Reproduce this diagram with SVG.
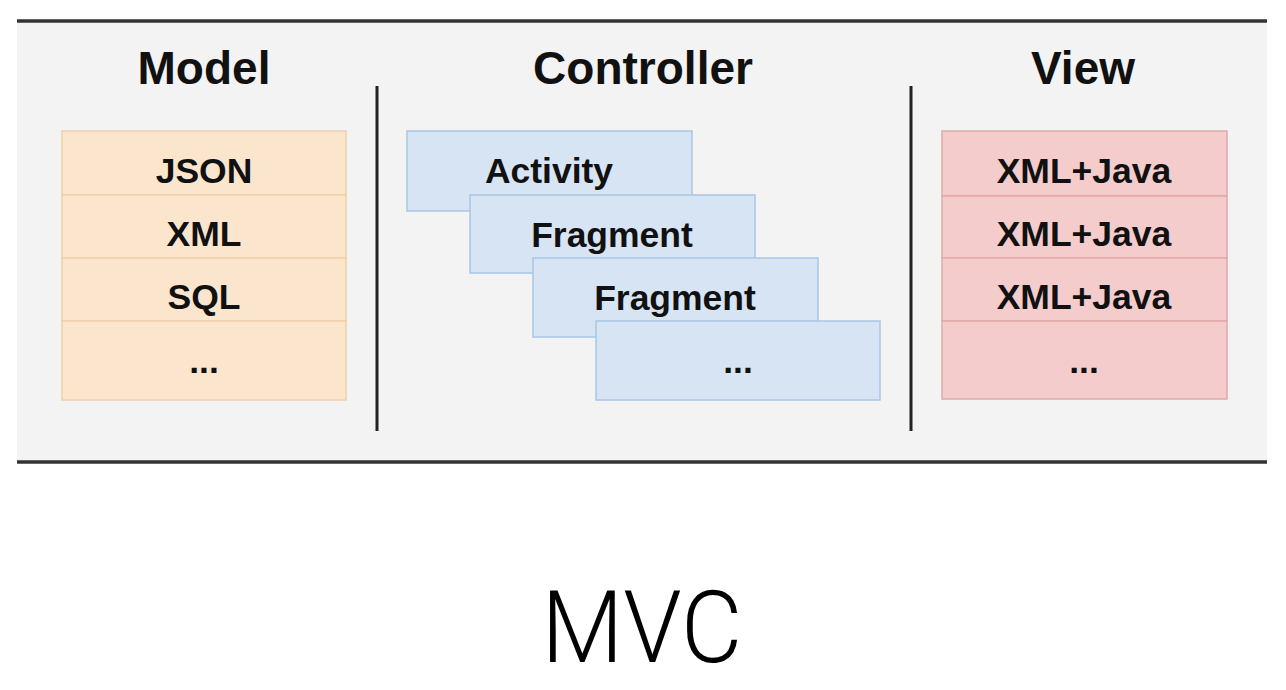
<svg xmlns="http://www.w3.org/2000/svg" width="1286" height="690" viewBox="0 0 1286 690">
<style>
.title{font-family:"Liberation Sans",Arial,sans-serif;font-weight:bold;font-size:46px;fill:#111;text-anchor:middle}
.lbl{font-family:"Liberation Sans",Arial,sans-serif;font-weight:bold;font-size:35.5px;fill:#111;text-anchor:middle}
.m{fill:#fce5cd;stroke:#efcfaa;stroke-width:1.5}
.c{fill:#d7e4f3;stroke:#a9c6e8;stroke-width:1.5}
.v{fill:#f4cccc;stroke:#e2a9a9;stroke-width:1.5}
.div{stroke:#222;stroke-width:3}
.edge{stroke:#333;stroke-width:3.5}
</style>
<rect width="1286" height="690" fill="#fff"/>
<g id="panel">
<rect x="17" y="22" width="1250" height="439" fill="#f3f3f3"/>
<line class="edge" x1="17" y1="21" x2="1267" y2="21"/>
<line class="edge" x1="17" y1="462" x2="1267" y2="462"/>
<line class="div" x1="377" y1="86" x2="377" y2="431"/>
<line class="div" x1="911" y1="86" x2="911" y2="431"/>
</g>
<g id="titles">
<text class="title" x="204" y="84">Model</text>
<text class="title" x="643" y="84">Controller</text>
<text class="title" x="1083" y="84">View</text>
</g>
<g id="model">
<rect class="m" x="62" y="131" width="284" height="64"/>
<rect class="m" x="62" y="195" width="284" height="63"/>
<rect class="m" x="62" y="258" width="284" height="63"/>
<rect class="m" x="62" y="321" width="284" height="79"/>
<text class="lbl" x="204" y="183">JSON</text>
<text class="lbl" x="204" y="246">XML</text>
<text class="lbl" x="204" y="309">SQL</text>
<text class="lbl" x="204" y="373">...</text>
</g>
<g id="controller">
<rect class="c" x="407" y="131" width="285" height="80"/>
<text class="lbl" x="549" y="183">Activity</text>
<rect class="c" x="470" y="195" width="285" height="78"/>
<text class="lbl" x="612" y="247">Fragment</text>
<rect class="c" x="533" y="258" width="285" height="79"/>
<text class="lbl" x="675" y="310">Fragment</text>
<rect class="c" x="596" y="321" width="284" height="79"/>
<text class="lbl" x="738" y="373">...</text>
</g>
<g id="view">
<rect class="v" x="942" y="131" width="285" height="65"/>
<rect class="v" x="942" y="196" width="285" height="62"/>
<rect class="v" x="942" y="258" width="285" height="63"/>
<rect class="v" x="942" y="321" width="285" height="78"/>
<text class="lbl" x="1084" y="183">XML+Java</text>
<text class="lbl" x="1084" y="246">XML+Java</text>
<text class="lbl" x="1084" y="309">XML+Java</text>
<text class="lbl" x="1084" y="373">...</text>
</g>
<g id="caption">
<text x="642" y="662" font-family="Roboto, 'Liberation Sans', sans-serif" font-weight="300" font-size="100" text-anchor="middle" fill="#000" textLength="201" lengthAdjust="spacingAndGlyphs">MVC</text>
</g>
</svg>
